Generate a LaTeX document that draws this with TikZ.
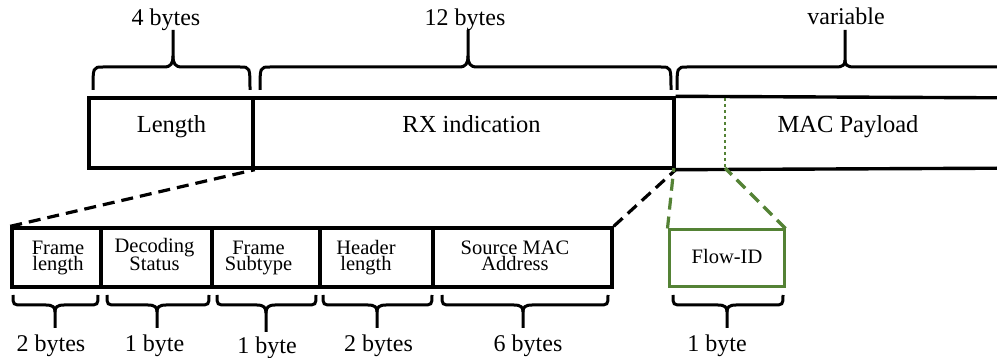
\documentclass[tikz,border=0pt]{standalone}
\usepackage{fontspec}
\setmainfont{Liberation Serif}
\definecolor{fgreen}{HTML}{548235}
\newcommand\mybrace[7][]{%
  \draw[brc,#1] (#2,#5) .. controls (#2,#6) .. ({#2+10},#6) -- ({#4-9},#6)
     .. controls ({#4-2},#6) and (#4,{#6+0.1*(#7-#6)}) .. (#4,{#6+0.3*(#7-#6)}) -- (#4,#7);
  \draw[brc,#1] (#3,#5) .. controls (#3,#6) .. ({#3-10},#6) -- ({#4+9},#6)
     .. controls ({#4+2},#6) and (#4,{#6+0.1*(#7-#6)}) .. (#4,{#6+0.3*(#7-#6)});
}
\begin{document}
\begin{tikzpicture}[x=1pt,y=-1pt,
  box/.style={draw, line width=3.4pt, inner sep=0pt},
  nobox/.style={inner sep=0pt},
  brc/.style={line width=3pt},
  dsh/.style={line width=3.2pt, dash pattern=on 12pt off 7pt},
  gdsh/.style={line width=3.2pt, fgreen, dash pattern=on 12pt off 7pt},
  toptxt/.style={font=\fontsize{24.5}{28}\selectfont, anchor=base, inner sep=0pt},
  lbl/.style={font=\fontsize{24}{28}\selectfont, anchor=base, inner sep=0pt},
  smtxt/.style={font=\fontsize{20.5}{16}\selectfont, align=center, anchor=base, inner sep=0pt}]
\useasboundingbox (0,0) rectangle (997,358);

% top bar
\node[box, minimum width=164pt, minimum height=70pt] (len) at (171,133) {};
\node[box, minimum width=421pt, minimum height=70pt] (rx) at (463.5,133) {};
\node[nobox, minimum width=323pt, minimum height=70pt] (mac) at (835.5,133) {};
\draw[line width=3.4pt] (rx.north east) -- (mac.north east);
\draw[line width=3.4pt] (rx.south east) -- (mac.south east);
\node[toptxt] (tlen) at (171.5,133) {Length};
\node[toptxt] (trx) at (471.5,133) {RX indication};
\node[toptxt] (tmac) at (848,133) {MAC Payload};

\coordinate (dottop) at (725,98);
\coordinate (dotbot) at (725,168);
\draw[fgreen, line width=2.8pt, dash pattern=on 3pt off 3pt] (dottop) -- (dotbot);

% top braces
\mybrace{93}{250}{173}{90}{67}{30}
\mybrace{260}{671}{468}{90}{67}{30}
\draw[brc] (677,90) .. controls (677,67) .. (687,67) -- (836,67)
     .. controls (843,67) and (845,{67-2.3}) .. (845,{67-6.9}) -- (845,30);
\draw[brc] (997,67) -- (854,67)
     .. controls (847,67) and (845,{67-2.3}) .. (845,{67-6.9});
\node[lbl] (l4) at (166,26) {4 bytes};
\node[lbl] (l12) at (465,26) {12 bytes};
\node[lbl] (lvar) at (846,25) {variable};

% bottom boxes
\node[box, minimum width=89pt, minimum height=59pt] (fl) at (56.5,257.5) {};
\node[box, minimum width=111pt, minimum height=59pt] (ds) at (156.5,257.5) {};
\node[box, minimum width=108pt, minimum height=59pt] (fs) at (266,257.5) {};
\node[box, minimum width=113pt, minimum height=59pt] (hl) at (376.5,257.5) {};
\node[box, minimum width=179pt, minimum height=59pt] (sm) at (522.5,257.5) {};
\node[box, draw=fgreen, line width=3pt, minimum width=115pt, minimum height=57pt] (fid) at (726.5,258.5) {};

\node[smtxt] (tfl) at (58,271) {Frame\\length};
\node[smtxt] (tds) at (154.5,271) {Decoding\\Status};
\node[smtxt] (tfs) at (258.5,271) {Frame\\Subtype};
\node[smtxt] (thl) at (366,271) {Header\\length};
\node[smtxt] (tsm) at (515,271) {Source MAC\\Address};
\node[smtxt] (tfid) at (727,264) {Flow-ID};

% connectors
\draw[dsh] (fl.north west) -- (len.south east);
\draw[dsh] (sm.north east) -- (rx.south east);
\draw[gdsh] (fid.north west) -- (mac.south west);
\draw[gdsh] (fid.north east) -- (dotbot);

% bottom braces
\mybrace{13}{98}{55}{295}{305}{328}
\mybrace{107}{209}{157}{295}{305}{328}
\mybrace{217}{316}{266}{295}{305}{332}
\mybrace{323}{432}{377}{295}{305}{328}
\mybrace{442}{608}{523}{295}{305}{328}
\mybrace{673}{783}{727}{295}{305}{328}

\node[lbl] (b1) at (51,351.5) {2 bytes};
\node[lbl] (b2) at (154.5,351.5) {1 byte};
\node[lbl] (b3) at (267,353.5) {1 byte};
\node[lbl] (b4) at (378.5,352) {2 bytes};
\node[lbl] (b5) at (528,351.5) {6 bytes};
\node[lbl] (b6) at (717,351.5) {1 byte};
\end{tikzpicture}
\end{document}
